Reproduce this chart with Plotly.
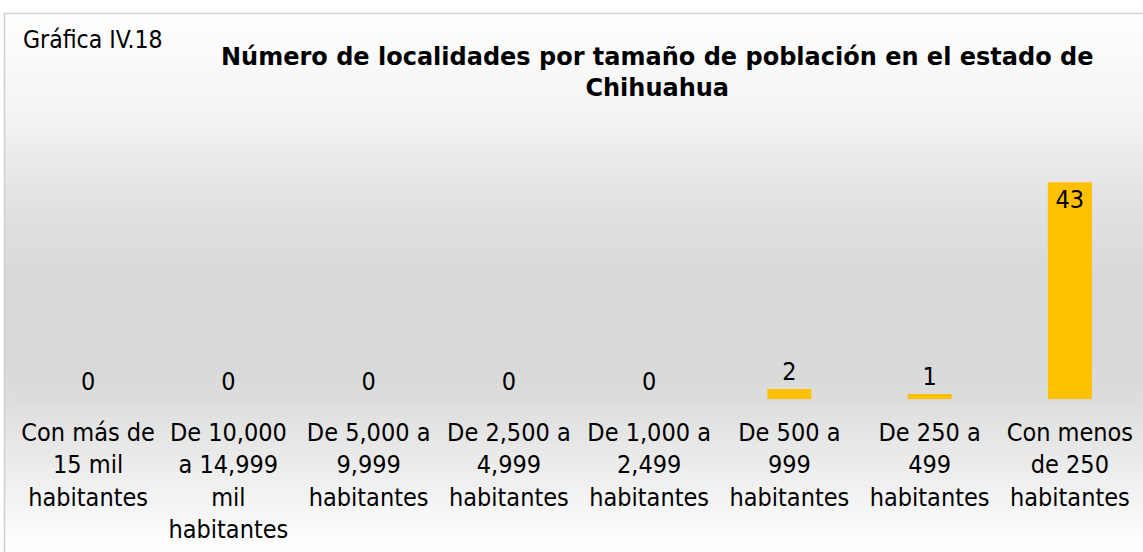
import plotly.graph_objects as go

# ---- data ----
categories = [
    "Con más de<br>15 mil<br>habitantes",
    "De 10,000<br>a 14,999<br>mil<br>habitantes",
    "De 5,000 a<br>9,999<br>habitantes",
    "De 2,500 a<br>4,999<br>habitantes",
    "De 1,000 a<br>2,499<br>habitantes",
    "De 500 a<br>999<br>habitantes",
    "De 250 a<br>499<br>habitantes",
    "Con menos<br>de 250<br>habitantes",
]
values = [0, 0, 0, 0, 0, 2, 1, 43]
title_text = "Número de localidades por tamaño de población en el estado de<br>Chihuahua"
label_text = "Gráfica IV.18"

# ---- layout geometry ----
W, H = 1143, 552
L, R = 18, 1140      # plot area x pixels
T, B = 147, 399      # plot area y pixels

def px(x):
    return (x - L) / (R - L)

def py(y):
    return (B - y) / (B - T)

FONT = "DejaVu Sans Condensed, DejaVu Sans, sans-serif"
TITLE_FONT = "DejaVu Sans, sans-serif"

# background gradient stops (pixel y, gray level)
stops = [(13, 255), (120, 243), (200, 226), (270, 217), (370, 217), (399, 221), (552, 255)]

def gray_at(y):
    for (y0, g0), (y1, g1) in zip(stops[:-1], stops[1:]):
        if y0 <= y <= y1:
            return g0 + (g1 - g0) * (y - y0) / (y1 - y0)
    return 255

shapes = []
step = 3
y = 13
while y < H:
    g = int(round(gray_at(y + step / 2)))
    shapes.append(dict(type="rect", xref="paper", yref="paper",
                       x0=px(4), x1=px(W + 5), y0=py(y + step + 0.5), y1=py(y),
                       fillcolor=f"rgb({g},{g},{g})", line=dict(width=0), layer="below"))
    y += step
# chart border
shapes.append(dict(type="rect", xref="paper", yref="paper",
                   x0=px(4.5), x1=px(W + 10), y0=py(H + 10), y1=py(13.5),
                   fillcolor="rgba(0,0,0,0)", line=dict(color="#d0d0d0", width=1.5),
                   layer="below"))

textpos = ["inside" if v > 20 else "outside" for v in values]

fig = go.Figure(go.Bar(
    x=categories, y=values,
    marker=dict(color="#FFC000", line=dict(width=0)),
    text=[str(v) for v in values],
    textposition=textpos,
    insidetextanchor="end",
    constraintext="none",
    textfont=dict(family=FONT, size=25, color="#000000"),
    cliponaxis=False,
    hoverinfo="skip",
))

fig.update_layout(
    width=W, height=H,
    margin=dict(l=L, r=W - R, t=T, b=H - B, pad=0),
    paper_bgcolor="white",
    plot_bgcolor="rgba(0,0,0,0)",
    bargap=0.686,
    showlegend=False,
    shapes=shapes,
    font=dict(family=FONT, size=25, color="#000000"),
    annotations=[
        dict(text=label_text, xref="paper", yref="paper", x=px(21), y=py(23),
             xanchor="left", yanchor="top", showarrow=False,
             font=dict(family=FONT, size=24.5, color="#000000")),
        dict(text="<b>" + title_text + "</b>", xref="paper", yref="paper",
             x=px(657), y=py(41), xanchor="center", yanchor="top", align="center",
             showarrow=False, font=dict(family=TITLE_FONT, size=24, color="#000000")),
    ],
)
fig.update_xaxes(showline=True, linecolor="#d9d9d9", linewidth=1.5, ticks="",
                 showgrid=False, zeroline=False, tickangle=0, ticklabelstandoff=10,
                 tickfont=dict(family=FONT, size=25, color="#000000"))
fig.update_yaxes(visible=False, range=[0, 50], showgrid=False, zeroline=False)

fig.write_html("out.html", config={"displayModeBar": False},
               post_script="document.body.style.margin='0';document.body.style.overflow='hidden';")
